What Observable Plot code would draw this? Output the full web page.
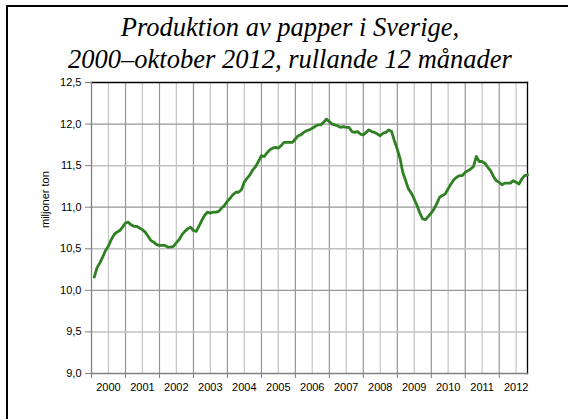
<!DOCTYPE html>
<html>
<head>
<meta charset="utf-8">
<script src="https://cdn.jsdelivr.net/npm/d3@7"></script>
<script src="https://cdn.jsdelivr.net/npm/@observablehq/plot@0.6"></script>
<style>
  html, body { margin: 0; padding: 0; background: #fff; overflow: hidden; }
  #wrap { position: relative; width: 568px; height: 419px; overflow: hidden; background: #fff; }
  #border { position: absolute; left: 6px; top: 5px; width: 700px; height: 600px; border: 2px solid #000; box-sizing: border-box; }
  #title { position: absolute; left: 6px; top: 12px; width: 568px; text-align: center;
           font-family: "Liberation Serif", "Times New Roman", serif; font-style: italic;
           font-size: 26.5px; line-height: 31.6px; color: #000; white-space: nowrap; }
  #chart { position: absolute; left: 0; top: 0; }
</style>
</head>
<body>
<div id="wrap">
  <div id="border"></div>
  <div id="chart"></div>
  <div id="title">Produktion av papper i Sverige,<br>2000–oktober 2012, rullande 12 månader</div>
</div>
<script>
// Rolling 12-month paper production, million tonnes, monthly Jan 2000 – Oct 2012
const years = [2000, 2001, 2002, 2003, 2004, 2005, 2006, 2007, 2008, 2009, 2010, 2011, 2012];
const v2000 = [10.16, 10.27, 10.33, 10.40, 10.48, 10.53, 10.61, 10.67, 10.70, 10.72, 10.76, 10.81];
const v2001 = [10.82, 10.79, 10.77, 10.77, 10.75, 10.73, 10.70, 10.65, 10.60, 10.58, 10.55, 10.54];
const v2002 = [10.54, 10.54, 10.52, 10.52, 10.53, 10.57, 10.61, 10.67, 10.71, 10.74, 10.76, 10.72];
const v2003 = [10.71, 10.77, 10.84, 10.90, 10.94, 10.93, 10.94, 10.94, 10.95, 10.99, 11.02, 11.07];
const v2004 = [11.11, 11.15, 11.18, 11.18, 11.21, 11.30, 11.35, 11.39, 11.45, 11.49, 11.55, 11.62];
const v2005 = [11.61, 11.65, 11.69, 11.71, 11.72, 11.71, 11.74, 11.78, 11.78, 11.78, 11.78, 11.82];
const v2006 = [11.86, 11.87, 11.90, 11.92, 11.93, 11.95, 11.97, 11.99, 11.99, 12.02, 12.06, 12.03];
const v2007 = [12.00, 11.99, 11.98, 11.96, 11.97, 11.96, 11.96, 11.91, 11.90, 11.91, 11.88, 11.87];
const v2008 = [11.90, 11.93, 11.91, 11.90, 11.88, 11.86, 11.89, 11.90, 11.93, 11.91, 11.80, 11.70];
const v2009 = [11.58, 11.42, 11.32, 11.22, 11.17, 11.10, 11.02, 10.93, 10.86, 10.85, 10.89, 10.93];
const v2010 = [10.98, 11.04, 11.12, 11.14, 11.16, 11.22, 11.28, 11.33, 11.36, 11.38, 11.38, 11.42];
const v2011 = [11.44, 11.46, 11.49, 11.61, 11.55, 11.55, 11.53, 11.48, 11.44, 11.37, 11.32, 11.30];
const v2012 = [11.27, 11.29, 11.29, 11.29, 11.32, 11.30, 11.28, 11.34, 11.38, 11.39];
const yTicks = [9.0, 9.5, 10.0, 10.5, 11.0, 11.5, 12.0, 12.5];
const yLabel = "miljoner ton";

const series = [v2000, v2001, v2002, v2003, v2004, v2005, v2006, v2007, v2008, v2009, v2010, v2011, v2012];
const data = [];
series.forEach((arr, i) => arr.forEach((v, m) => {
  data.push({date: new Date(Date.UTC(years[i], m + 1, 0)), value: v});
}));

const yearStarts = years.map(y => new Date(Date.UTC(y, 0, 1)));
const midYears = years.map(y => new Date(Date.UTC(y, 6, 1)));
const innerYears = yearStarts.slice(1);
const halfYears = midYears;
const fmt = d => d3.format(".1f")(d).replace(".", ",");

const chart = Plot.plot({
  width: 568,
  height: 419,
  marginLeft: 91,
  marginRight: 41,
  marginTop: 82,
  marginBottom: 46,
  style: {fontFamily: "'Liberation Sans', Arial, sans-serif", fontSize: "11px", color: "#000", background: "transparent"},
  x: {type: "utc", domain: [new Date(Date.UTC(2000, 0, 1)), new Date(Date.UTC(2012, 9, 31))]},
  y: {domain: [9, 12.5]},
  marks: [
    Plot.gridX(halfYears, {stroke: "#c8c8c8", strokeOpacity: 1, strokeWidth: 1.3}),
    Plot.gridX(innerYears, {stroke: "#969696", strokeOpacity: 1, strokeWidth: 1.2}),
    Plot.gridY([9.5, 10.5, 11.5], {stroke: "#c0c0c0", strokeOpacity: 1, strokeWidth: 1.5}),
    Plot.gridY([10, 11, 12], {stroke: "#969696", strokeOpacity: 1, strokeWidth: 1.2}),
    Plot.frame({anchor: "top", stroke: "#000", strokeWidth: 1.3}),
    Plot.frame({anchor: "right", stroke: "#000", strokeWidth: 1.3}),
    Plot.frame({anchor: "left", stroke: "#808080", strokeWidth: 1.3}),
    Plot.frame({anchor: "bottom", stroke: "#808080", strokeWidth: 1.3}),
    Plot.axisY({ticks: yTicks, tickFormat: fmt, tickSize: 6, tickPadding: 4, stroke: "#808080", label: null, fontSize: 11}),
    Plot.axisX({ticks: yearStarts, tickFormat: () => "", tickSize: 5, stroke: "#808080", label: null}),
    Plot.axisX({ticks: midYears, tickFormat: d => String(d.getUTCFullYear()), tickSize: 0, tickPadding: 10, label: null, fontSize: 11}),
    Plot.line(data, {x: "date", y: "value", stroke: "#2e8022", strokeWidth: 2.8, curve: "linear"}),
    Plot.text([yLabel], {frameAnchor: "left", dx: -46, rotate: -90, fontSize: 11, fill: "#000", text: d => d})
  ]
});
document.getElementById("chart").appendChild(chart);
</script>
</body>
</html>
